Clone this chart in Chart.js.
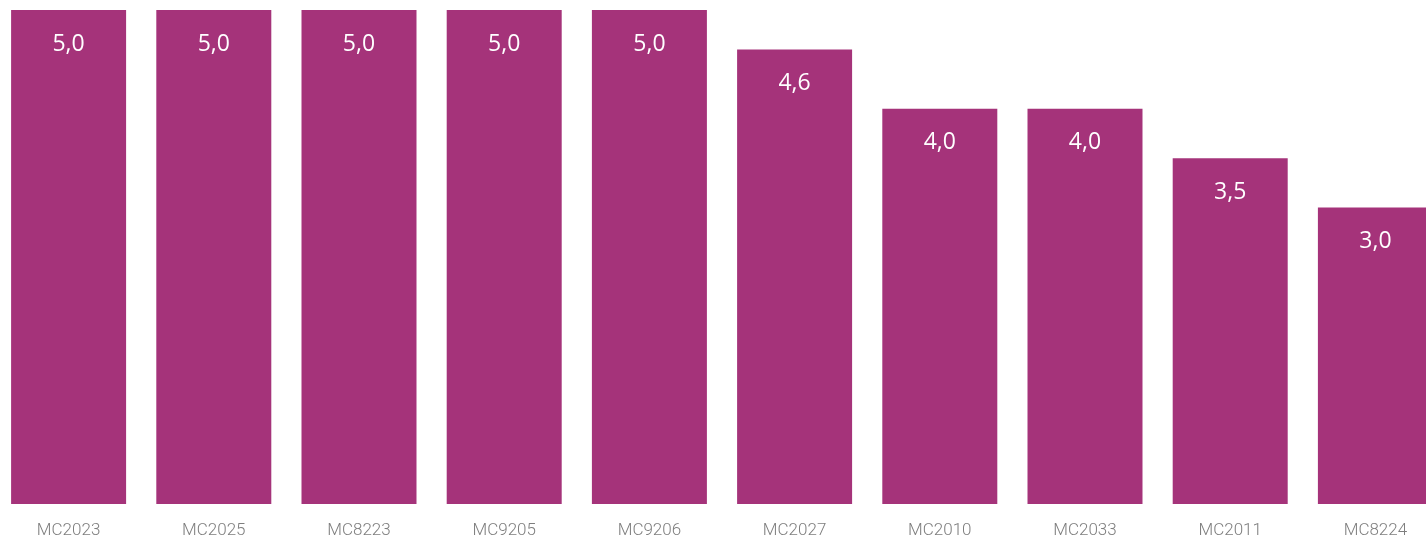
<!DOCTYPE html>
<html>
<head>
<meta charset="utf-8">
<script src="https://cdn.jsdelivr.net/npm/chart.js@4/dist/chart.umd.min.js"></script>
<style>
  html, body { margin: 0; padding: 0; background: #fff; overflow: hidden; }
  #wrap { position: absolute; left: -4px; top: 0; width: 1452px; height: 543px; }
</style>
</head>
<body>
<div id="wrap"><canvas id="chart"></canvas></div>
<script>
// product codes and their scores
const codes = ['MC2023', 'MC2025', 'MC8223', 'MC9205', 'MC9206', 'MC2027', 'MC2010', 'MC2033', 'MC2011', 'MC8224'];
const scores = [5.0, 5.0, 5.0, 5.0, 5.0, 4.6, 4.0, 4.0, 3.5, 3.0];

// white value label near the top of each bar, decimal comma
const valueLabels = {
  id: 'valueLabels',
  afterDatasetsDraw(chart) {
    const ctx = chart.ctx;
    const meta = chart.getDatasetMeta(0);
    ctx.save();
    ctx.fillStyle = '#ffffff';
    ctx.font = '23px "Open Sans"';
    ctx.textAlign = 'center';
    ctx.textBaseline = 'middle';
    meta.data.forEach(function (bar, i) {
      const txt = scores[i].toFixed(1).replace('.', ',');
      ctx.fillText(txt, bar.x, bar.y + 34);
    });
    ctx.restore();
  }
};

new Chart(document.getElementById('chart'), {
  type: 'bar',
  data: {
    labels: codes,
    datasets: [{
      data: scores,
      backgroundColor: '#a5337a',
      borderWidth: 0,
      categoryPercentage: 1.0,
      barPercentage: 0.792
    }]
  },
  options: {
    responsive: true,
    maintainAspectRatio: false,
    animation: false,
    layout: { padding: { top: 10, left: 0, right: 0, bottom: 0 } },
    plugins: {
      legend: { display: false },
      tooltip: { enabled: false }
    },
    scales: {
      y: {
        display: false,
        min: 0,
        max: 5
      },
      x: {
        grid: { display: false, drawTicks: false },
        border: { display: false },
        ticks: {
          color: '#7e7e7e',
          font: { family: 'Roboto', size: 17, weight: 300 },
          padding: 17,
          maxRotation: 0,
          autoSkip: false
        },
        afterFit: function (axis) { axis.height = 39; }
      }
    }
  },
  plugins: [valueLabels]
});
</script>
</body>
</html>
